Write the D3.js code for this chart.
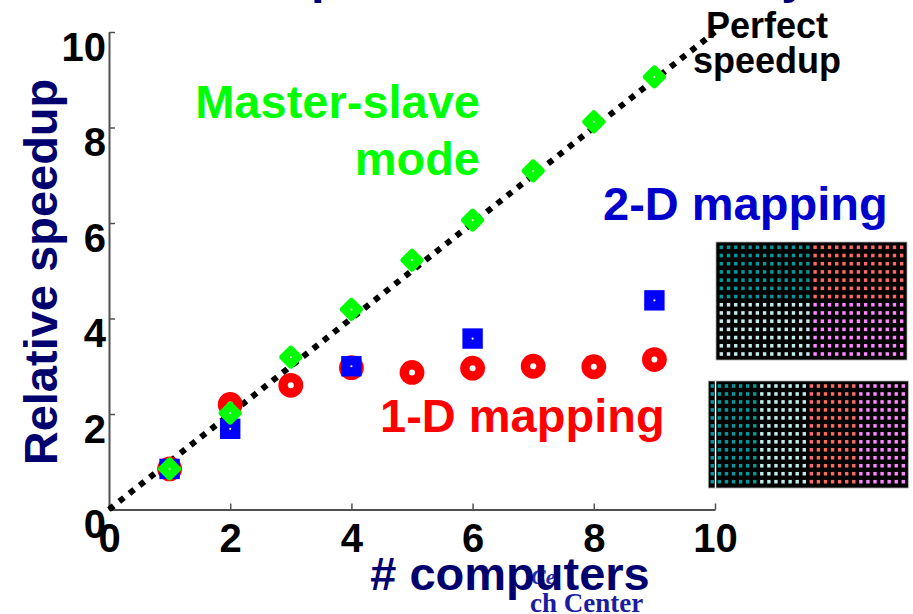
<!DOCTYPE html>
<html><head><meta charset="utf-8">
<script src="https://cdn.jsdelivr.net/npm/d3@7"></script>
<style>
body{margin:0;background:#fff}
svg{display:block}
text{font-family:"Liberation Sans",Arial,sans-serif;font-weight:bold}
</style>
</head><body>
<svg id="chart" width="913" height="614"></svg>
<script>
// Relative speedup measured for each number of computers
const computers = [1, 2, 3, 4, 5, 6, 7, 8, 9];
const masterSlave = [0.85, 2.02, 3.19, 4.19, 5.22, 6.06, 7.09, 8.12, 9.06];
const oneD = [0.85, 2.20, 2.60, 2.97, 2.87, 2.96, 3.00, 2.99, 3.14];
const twoDComputers = [1, 2, 4, 6, 9];
const twoD = [0.85, 1.69, 3.00, 3.58, 4.38];
const perfectLine = [0, 10];
const xTicks = [0, 2, 4, 6, 8, 10];
const yTicks = [0, 2, 4, 6, 8, 10];

// Processor-mapping thumbnails: colours of the work blocks
const quadColors = [["#009a9a", "#ff6868"], ["#c4eaea", "#ff86ff"]];
const stripColors = ["#009a9a", "#c4eaea", "#ff6868", "#ff86ff"];

const svg = d3.select("#chart");
const x = d3.scaleLinear().domain([0, 10]).range([109, 715]);
const y = d3.scaleLinear().domain([0, 10]).range([509.5, 32]);

const navy = "#00006e";

// clipped heading at the very top
svg.append("text").attr("x", 201).attr("y", -7)
  .attr("font-size", 49.5).attr("fill", navy)
  .text("Comparison of Scalability");

// axes
const axisColor = "#505050";
const gx = svg.append("g").attr("transform", `translate(0,${y(0)})`)
  .call(d3.axisBottom(x).tickValues(xTicks).tickSizeInner(-6).tickSizeOuter(0).tickPadding(14));
const gy = svg.append("g").attr("transform", `translate(${x(0)},0)`)
  .call(d3.axisLeft(y).tickValues(yTicks).tickSizeInner(-6).tickSizeOuter(0).tickPadding(3));
[gx, gy].forEach(g => {
  g.select(".domain").attr("stroke", axisColor).attr("stroke-width", 2);
  g.selectAll(".tick line").attr("stroke", axisColor).attr("stroke-width", 1.5);
  g.selectAll(".tick text").attr("fill", "#000").attr("font-size", 40)
    .attr("font-family", '"Liberation Sans",Arial,sans-serif').attr("font-weight", "bold");
});
gy.selectAll(".tick text").attr("dy", "0.7em");

// perfect speedup reference line
svg.append("line")
  .attr("x1", x(perfectLine[0])).attr("y1", y(perfectLine[0]))
  .attr("x2", x(perfectLine[1])).attr("y2", y(perfectLine[1]))
  .attr("stroke", "#000").attr("stroke-width", 6).attr("stroke-dasharray", "6,7");

// 1-D mapping: red rings
const rings = svg.append("g");
computers.forEach((c, i) => {
  rings.append("circle").attr("cx", x(c)).attr("cy", y(oneD[i])).attr("r", 12.4).attr("fill", "#ff0000");
  rings.append("circle").attr("cx", x(c)).attr("cy", y(oneD[i])).attr("r", 3).attr("fill", "#fff");
});

// 2-D mapping: blue squares
const squares = svg.append("g");
twoDComputers.forEach((c, i) => {
  squares.append("rect").attr("x", x(c) - 10.2).attr("y", y(twoD[i]) - 10.2)
    .attr("width", 20.4).attr("height", 20.4).attr("fill", "#0000ff");
  squares.append("circle").attr("cx", x(c)).attr("cy", y(twoD[i])).attr("r", 1.1).attr("fill", "#fff");
});

// master-slave mode: green diamonds
const diamonds = svg.append("g");
computers.forEach((c, i) => {
  diamonds.append("rect").attr("x", -9).attr("y", -9).attr("width", 18).attr("height", 18)
    .attr("rx", 3).attr("fill", "#00ff00")
    .attr("transform", `translate(${x(c)},${y(masterSlave[i])}) rotate(45)`);
  diamonds.append("circle").attr("cx", x(c)).attr("cy", y(masterSlave[i])).attr("r", 1).attr("fill", "#fff");
});

// mapping thumbnails
const thumb1 = svg.append("g");
thumb1.append("rect").attr("x", 716).attr("y", 242).attr("width", 191).attr("height", 118)
  .attr("fill", "#000").attr("stroke", "#b0b0b0").attr("stroke-width", 0.8);
const c1 = d3.scaleLinear().domain([0, 25]).range([721.3, 901.7]);
const r1 = d3.scaleLinear().domain([0, 13]).range([247.3, 354]);
d3.range(14).forEach(r => d3.range(26).forEach(c => {
  thumb1.append("rect").attr("x", c1(c) - 1.7).attr("y", r1(r) - 1.8)
    .attr("width", 3.4).attr("height", 3.6)
    .attr("fill", quadColors[r < 7 ? 0 : 1][c < 13 ? 0 : 1]);
}));

const thumb2 = svg.append("g");
thumb2.append("rect").attr("x", 708.3).attr("y", 381).attr("width", 200).attr("height", 107)
  .attr("fill", "#000").attr("stroke", "#b0b0b0").attr("stroke-width", 0.8);
const c2 = d3.scaleLinear().domain([0, 27]).range([712.3, 903.3]);
const r2 = d3.scaleLinear().domain([0, 12]).range([386, 481.7]);
d3.range(13).forEach(r => d3.range(28).forEach(c => {
  thumb2.append("rect").attr("x", c2(c) - 1.7).attr("y", r2(r) - 1.8)
    .attr("width", 3.4).attr("height", 3.6)
    .attr("fill", stripColors[Math.floor(c / 7)]);
}));
thumb2.append("line").attr("x1", 715.5).attr("x2", 715.5).attr("y1", 381).attr("y2", 488)
  .attr("stroke", "#fff").attr("stroke-width", 1.5);

// series labels
svg.append("text").attr("x", 480).attr("y", 118).attr("text-anchor", "end")
  .attr("font-size", 47).attr("fill", "#00ff00").text("Master-slave");
svg.append("text").attr("x", 480).attr("y", 175).attr("text-anchor", "end")
  .attr("font-size", 47).attr("fill", "#00ff00").text("mode");
svg.append("text").attr("x", 603).attr("y", 220)
  .attr("font-size", 47).attr("fill", "#0000cc").text("2-D mapping");
svg.append("text").attr("x", 380).attr("y", 432)
  .attr("font-size", 47).attr("fill", "#ff0000").text("1-D mapping");
svg.append("text").attr("x", 767).attr("y", 38).attr("text-anchor", "middle")
  .attr("font-size", 36).attr("fill", "#000").text("Perfect");
svg.append("text").attr("x", 767).attr("y", 73).attr("text-anchor", "middle")
  .attr("font-size", 36).attr("fill", "#000").text("speedup");

// footer text partly behind the axis title
svg.append("text").attr("x", 531).attr("y", 584)
  .style("font-family", '"Liberation Serif","Times New Roman",serif').style("font-style", "italic")
  .attr("font-size", 22).attr("fill", "#2a2aa8").text("Ce");
svg.append("text").attr("x", 530).attr("y", 612)
  .style("font-family", '"Liberation Serif","Times New Roman",serif')
  .attr("font-size", 27).attr("fill", "#1c1ca0").text("ch Center");

// axis titles
svg.append("text").attr("x", 510).attr("y", 590).attr("text-anchor", "middle")
  .attr("font-size", 47).attr("fill", navy).text("# computers");
svg.append("text").attr("transform", "translate(57,272) rotate(-90)").attr("text-anchor", "middle")
  .attr("font-size", 47).attr("fill", navy).text("Relative speedup");
</script>
</body></html>
